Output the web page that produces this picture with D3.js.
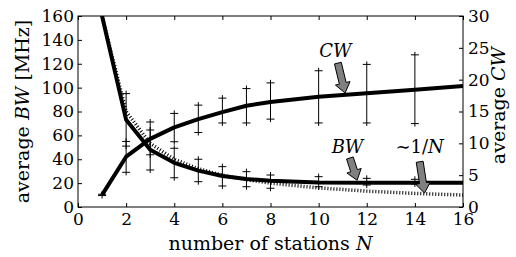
<!DOCTYPE html>
<html>
<head>
<meta charset="utf-8">
<script src="https://cdn.jsdelivr.net/npm/d3@7"></script>
<style>
  body { margin: 0; background: #fff; }
  text { font-family: "DejaVu Serif", serif; }
</style>
</head>
<body>
<svg width="516" height="257"></svg>
<script>
// number of stations
var stations = [1, 2, 3, 4, 5, 6, 7, 8, 10, 12, 14, 16];
// average BW [MHz], left axis
var bwMean = [160, 73, 48, 37, 30.5, 26, 23.5, 22, 20.5, 20.4, 20.4, 20.4];
var bwLow  = [null, 51, 31, 24.5, 21.2, 17.6, 17, 15.7, 17, 18.4, 19.3, null];
var bwHigh = [null, 95, 64.5, 49.2, 40, 33.8, 29.6, 26.8, 25.4, 24, 23.2, null];
// ~1/N reference curve, left axis
var invN = [160, 80, 53.3, 40, 32, 26.7, 22.9, 20, 16, 13.3, 11.4, 10];
// average CW, right axis
var cwMean = [1.9, 7.9, 10.7, 12.5, 13.8, 14.9, 15.9, 16.5, 17.3, 17.85, 18.4, 19.0];
var cwLow  = [1.8, 5.45, 8.2, 10.25, 11.7, 13.2, 13.2, 13.8, 13.2, 13.2, 13.1, null];
var cwHigh = [2.0, 10.3, 13.35, 14.7, 16.0, 17.1, 18.6, 19.5, 21.4, 22.4, 23.9, null];

var xTicks = [0, 2, 4, 6, 8, 10, 12, 14, 16];
var yLeftTicks = [0, 20, 40, 60, 80, 100, 120, 140, 160];
var yRightTicks = [0, 5, 10, 15, 20, 25, 30];

// annotations in (N, right-axis) units: label, tail, tip
var notes = [
  {label: "CW", tx: 10.7, ty: 24.6, ax: 10.8, ay: 22.6, px: 11.1, py: 17.9},
  {label: "BW", tx: 11.2, ty: 9.4, ax: 11.3, ay: 7.7, px: 11.6, py: 4.2},
  {label: "1/N", tx: 14.2, ty: 9.4, ax: 14.2, ay: 7.1, px: 14.4, py: 2.2}
];

var svg = d3.select("svg"),
    margin = {top: 16, right: 53, bottom: 50, left: 78},
    width = 516 - margin.left - margin.right,
    height = 257 - margin.top - margin.bottom;

var x = d3.scaleLinear().domain([0, 16]).range([0, width]);
var yL = d3.scaleLinear().domain([0, 160]).range([height, 0]);
var yR = d3.scaleLinear().domain([0, 30]).range([height, 0]);

var g = svg.append("g").attr("transform", "translate(" + margin.left + "," + margin.top + ")");

g.append("clipPath").attr("id", "plotclip")
  .append("rect").attr("width", width).attr("height", height);

var plot = g.append("g").attr("clip-path", "url(#plotclip)");

var rows = stations.map(function(n, i) {
  return {n: n, bw: bwMean[i], bwLo: bwLow[i], bwHi: bwHigh[i], inv: invN[i],
          cw: cwMean[i], cwLo: cwLow[i], cwHi: cwHigh[i]};
});

function drawBars(cls, lo, hi, y) {
  var d = rows.filter(function(r) { return r[lo] != null; });
  var bars = plot.selectAll("." + cls).data(d).enter().append("g").attr("class", cls);
  bars.append("line")
    .attr("x1", function(r) { return x(r.n); }).attr("x2", function(r) { return x(r.n); })
    .attr("y1", function(r) { return y(r[lo]) + 3; }).attr("y2", function(r) { return y(r[hi]) - 3; })
    .attr("stroke", "black").attr("stroke-width", 1);
  [lo, hi].forEach(function(k) {
    bars.append("line")
      .attr("x1", function(r) { return x(r.n) - 4; }).attr("x2", function(r) { return x(r.n) + 4; })
      .attr("y1", function(r) { return y(r[k]); }).attr("y2", function(r) { return y(r[k]); })
      .attr("stroke", "black").attr("stroke-width", 1);
  });
}

drawBars("bwbar", "bwLo", "bwHi", yL);
drawBars("cwbar", "cwLo", "cwHi", yR);

plot.append("path")
  .datum(rows)
  .attr("fill", "none").attr("stroke", "black")
  .attr("stroke-width", 3.5).attr("stroke-dasharray", "1,2")
  .attr("d", d3.line().x(function(r) { return x(r.n); }).y(function(r) { return yL(r.inv); }));

plot.append("path")
  .datum(rows)
  .attr("fill", "none").attr("stroke", "black").attr("stroke-width", 4)
  .attr("stroke-linejoin", "round")
  .attr("d", d3.line().x(function(r) { return x(r.n); }).y(function(r) { return yL(r.bw); }));

plot.append("path")
  .datum(rows)
  .attr("fill", "none").attr("stroke", "black").attr("stroke-width", 4)
  .attr("stroke-linejoin", "round")
  .attr("d", d3.line().x(function(r) { return x(r.n); }).y(function(r) { return yR(r.cw); }));

// axes, ticks pointing inward
var axB = g.append("g").attr("transform", "translate(0," + height + ")")
  .call(d3.axisBottom(x).tickValues(xTicks).tickSize(-4).tickSizeOuter(0).tickPadding(6));
var axT = g.append("g")
  .call(d3.axisTop(x).tickValues(xTicks).tickSize(-4).tickSizeOuter(0).tickFormat(""));
var axL = g.append("g")
  .call(d3.axisLeft(yL).tickValues(yLeftTicks).tickSize(-4).tickSizeOuter(0).tickPadding(4));
var axR = g.append("g").attr("transform", "translate(" + width + ",0)")
  .call(d3.axisRight(yR).tickValues(yRightTicks).tickSize(-4).tickSizeOuter(0).tickPadding(5));

[axB, axT, axL, axR].forEach(function(a) {
  a.select(".domain").remove();
  a.selectAll(".tick line").attr("stroke", "black");
  a.selectAll("text").attr("font-family", "DejaVu Serif").attr("font-size", 17).attr("fill", "black");
});

g.append("rect").attr("width", width).attr("height", height)
  .attr("fill", "none").attr("stroke", "black").attr("stroke-width", 1);

// arrows
function arrowPoints(d) {
  var x0 = x(d.ax), y0 = yR(d.ay), x1 = x(d.px), y1 = yR(d.py);
  var dx = x1 - x0, dy = y1 - y0, len = Math.sqrt(dx * dx + dy * dy);
  var ux = dx / len, uy = dy / len, nx = -uy, ny = ux;
  var hx = x1 - ux * 10, hy = y1 - uy * 10;
  var sw = 3.5, hw = 7.5;
  return [[x0 + nx * sw, y0 + ny * sw], [hx + nx * sw, hy + ny * sw], [hx + nx * hw, hy + ny * hw],
          [x1, y1], [hx - nx * hw, hy - ny * hw], [hx - nx * sw, hy - ny * sw], [x0 - nx * sw, y0 - ny * sw]]
    .map(function(p) { return p.join(","); }).join(" ");
}

g.selectAll(".arrow").data(notes).enter().append("polygon")
  .attr("class", "arrow")
  .attr("points", arrowPoints)
  .attr("fill", "#808080").attr("stroke", "black").attr("stroke-width", 1)
  .attr("stroke-linejoin", "miter");

var labels = g.selectAll(".note").data(notes).enter().append("text")
  .attr("class", "note")
  .attr("x", function(d) { return x(d.tx); })
  .attr("y", function(d) { return yR(d.ty); })
  .attr("dy", "0.35em")
  .attr("text-anchor", "middle")
  .attr("font-size", 18);
labels.each(function(d) {
  var t = d3.select(this);
  if (d.label === "1/N") {
    t.append("tspan").text("\u223C1/");
    t.append("tspan").attr("font-style", "italic").text("N");
  } else {
    t.append("tspan").attr("font-style", "italic").text(d.label);
  }
});

// axis labels
var xl = g.append("text")
  .attr("x", width / 2).attr("y", 234)
  .attr("text-anchor", "middle").attr("font-size", 19);
xl.append("tspan").text("number of stations ");
xl.append("tspan").attr("font-style", "italic").text("N");

var yl = g.append("text")
  .attr("transform", "translate(" + (22 - margin.left) + "," + (height / 2) + ") rotate(-90)")
  .attr("dy", "0.35em").attr("text-anchor", "middle").attr("font-size", 19);
yl.append("tspan").text("average ");
yl.append("tspan").attr("font-style", "italic").text("BW");
yl.append("tspan").text(" [MHz]");

var yr = g.append("text")
  .attr("transform", "translate(" + (width + 35) + "," + (height / 2 - 6) + ") rotate(-90)")
  .attr("dy", "0.35em").attr("text-anchor", "middle").attr("font-size", 19);
yr.append("tspan").text("average ");
yr.append("tspan").attr("font-style", "italic").text("CW");
</script>
</body>
</html>
